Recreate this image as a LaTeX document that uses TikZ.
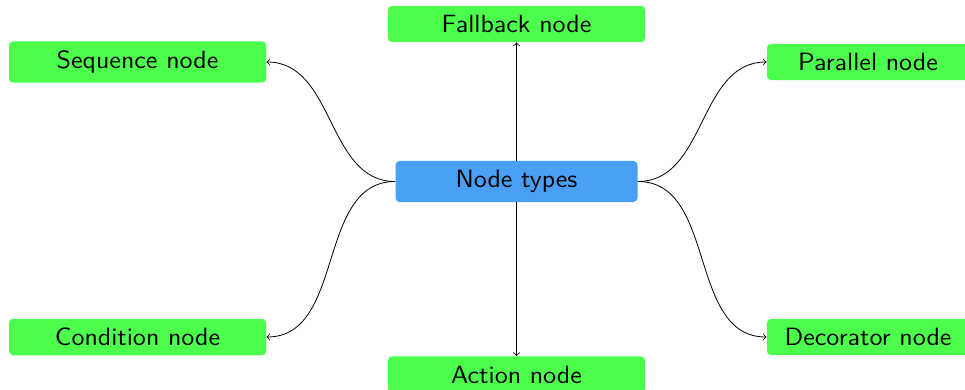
\documentclass[tikz,border=0pt]{standalone}
\usetikzlibrary{arrows}
\definecolor{leafgreen}{RGB}{76,255,76}
\definecolor{rootblue}{RGB}{73,158,245}
% labels are set a little wider than the plain sans face
\newcommand\widelabel[1]{\scalebox{1.065}[1]{#1}}
\begin{document}
\begin{tikzpicture}[x=0.5pt,y=-0.5pt,
  typebox/.style={rectangle, rounded corners=2pt, fill=leafgreen,
    font=\sffamily\fontsize{12.5}{15}\selectfont, inner xsep=0pt, inner ysep=4.65pt,
    minimum width=128.5pt},
  sidebox/.style={typebox, minimum width=101pt},
  rootbox/.style={typebox, fill=rootblue, minimum width=121pt},
  link/.style={->, thin}]
\useasboundingbox (0,0) rectangle (965,390);

\node[rootbox] (types) at (516.5,181.5) {\widelabel{Node types}};

\node[typebox] (fallback)  at (516.5,24)   {\widelabel{Fallback node}};
\node[typebox] (action)    at (516.5,374.5){\widelabel{Action node}};
\node[typebox] (sequence)  at (137.5,62)   {\widelabel{Sequence node}};
\node[typebox] (condition) at (137.5,337)  {\widelabel{Condition node}};
\node[sidebox] (parallel)  at (868,62)     {\widelabel{Parallel node}};
\node[sidebox] (decorator) at (868,337)    {\widelabel{Decorator node}};

\draw[link] (types.north) -- (fallback.south);
\draw[link] (types.south) -- (action.north);
\draw[link] (types.west) to[out=180,in=0] (sequence.east);
\draw[link] (types.west) to[out=180,in=0] (condition.east);
\draw[link] (types.east) to[out=0,in=180] (parallel.west);
\draw[link] (types.east) to[out=0,in=180] (decorator.west);
\end{tikzpicture}
\end{document}
